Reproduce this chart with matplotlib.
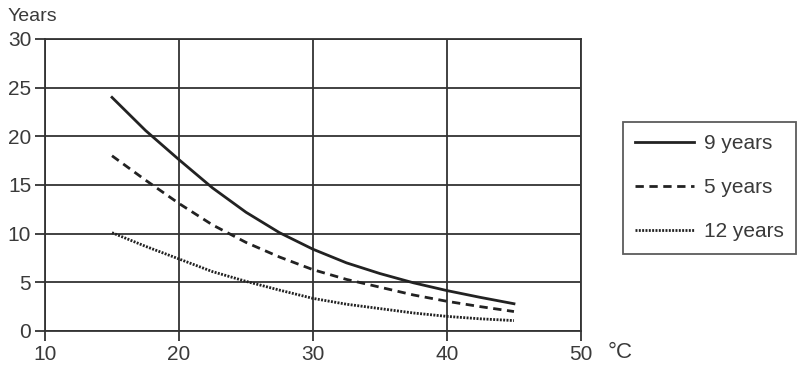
import numpy as np
import matplotlib
matplotlib.use('Agg')
import matplotlib.pyplot as plt

plt.rcParams['font.family'] = ['Liberation Sans', 'DejaVu Sans']

# temperature (deg C) and years
temps = [15, 17.5, 20, 22.5, 25, 27.5, 30, 32.5, 35, 37.5, 40, 42.5, 45]
nine_years = [24.0, 20.6, 17.6, 14.7, 12.2, 10.1, 8.4, 7.0, 5.9, 4.95, 4.15, 3.45, 2.8]
five_years = [18.0, 15.5, 13.1, 10.9, 9.1, 7.6, 6.3, 5.3, 4.5, 3.7, 3.05, 2.5, 2.0]
twelve_years = [10.1, 8.7, 7.4, 6.1, 5.1, 4.2, 3.35, 2.75, 2.3, 1.85, 1.5, 1.25, 1.07]

x_ticks = [10, 20, 30, 40, 50]
y_ticks = [0, 5, 10, 15, 20, 25, 30]

txt = '#3a3a3a'
ink = '#222222'
grid_c = '#333333'

fig = plt.figure(figsize=(8.01, 3.76), dpi=100)
ax = fig.add_axes([0.0562, 0.1197, 0.6691, 0.7766])

ax.plot(temps, nine_years, color=ink, lw=2.0, label='9 years')
ax.plot(temps, five_years, color=ink, lw=2.0, linestyle=(0, (3, 2)), label='5 years')
ax.plot(temps, twelve_years, color=ink, lw=2.0, linestyle=(0, (0.7, 0.5)), label='12 years')

ax.set_xlim(10, 50)
ax.set_ylim(0, 30)
ax.set_xticks(x_ticks)
ax.set_yticks(y_ticks)
ax.grid(True, color=grid_c, lw=1.3)
ax.set_axisbelow(True)
for s in ax.spines.values():
    s.set_color(grid_c)
    s.set_linewidth(1.3)
ax.tick_params(axis='both', direction='out', length=7, width=1.3, color=grid_c,
               labelsize=15, labelcolor=txt, pad=3)

fig.text(0.01, 0.955, 'Years', fontsize=14, color=txt, ha='left', va='center')
fig.text(0.758, 0.062, '°C', fontsize=16, color=txt, ha='left', va='center')

leg = ax.legend(loc='center left', bbox_to_anchor=(1.078, 0.49), fontsize=15,
                frameon=True, fancybox=False, edgecolor='#333333',
                handlelength=2.8, handletextpad=0.5, labelspacing=1.2,
                borderpad=0.6, borderaxespad=0, labelcolor=txt)
leg.get_frame().set_linewidth(1.3)

fig.savefig('out.png', dpi=100)
